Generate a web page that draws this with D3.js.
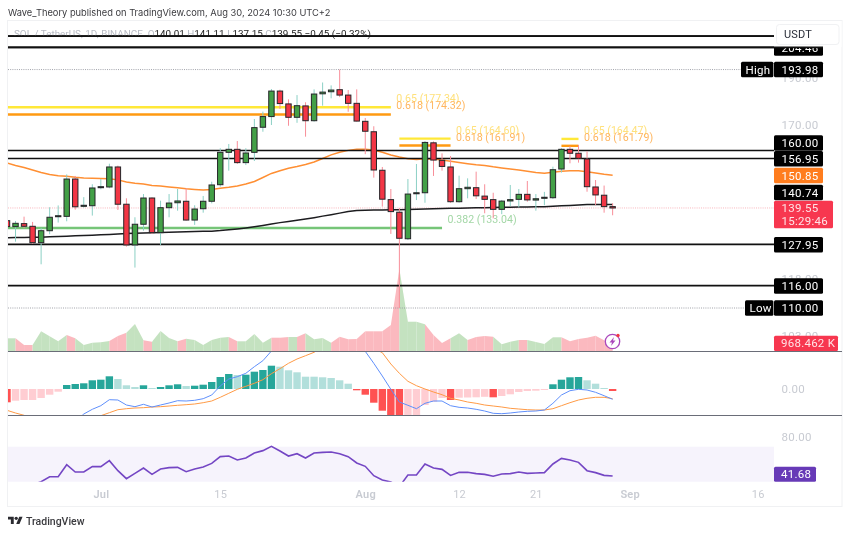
<!DOCTYPE html>
<html><head><meta charset="utf-8">
<script src="https://cdn.jsdelivr.net/npm/d3@7"></script>
<style>
html,body{margin:0;padding:0;background:#fff}
svg{display:block;filter:blur(0.3px)}
text{font-family:Roboto,sans-serif}
</style></head><body>
<div id="chart"></div>
<script>
// ---------- data ----------
const firstDay = "2024-06-20";
const opens = [135.4,133.5,134.45,133.6,128.5,132.2,136.75,136.8,149.5,140.1,
140.3,146.45,146.7,153.85,140.8,127.8,134.25,142.9,131.6,139.65,
141.3,141.8,135.6,139.3,141.8,147.5,159.3,160.45,155.45,159.3,
169.1,173.45,184.3,178.75,173.15,177.9,171.75,183.1,184.0,184.9,
182.55,179.0,171.5,167.3,152.65,142.35,138.15,129.7,144.35,144.7,
162.95,156.3,153.85,141.65,146.1,146.45,143.55,142.35,139.1,141.9,
142.45,144.15,142.2,142.8,143.0,153.1,160.45,158.95,156.8,146.7,
143.85,140.01];
const closes = [133.5,134.55,133.6,128.5,132.2,136.5,137.0,149.5,139.95,140.45,
146.35,146.8,153.85,140.8,127.8,134.25,142.9,131.6,139.65,141.2,
141.9,135.6,139.2,141.8,147.4,159.3,160.45,155.45,159.05,168.95,
173.45,184.3,178.9,173.15,178.0,171.75,183.0,183.85,184.75,182.55,
179.0,171.6,167.5,152.75,142.5,138.35,129.85,144.25,144.7,163.1,
156.4,154.05,141.65,146.1,146.6,143.65,142.45,139.1,141.85,142.35,
144.15,142.25,142.65,143.15,152.85,160.45,158.95,157.05,146.8,143.95,
140.0,139.55];
const highs = [135.9,135.3,136.7,135.0,133.1,139.8,140.4,151.15,150.6,143.2,
147.65,149.5,155.05,154.35,142.8,136.5,144.25,143.15,142.0,144.25,
146.0,146.25,140.45,143.6,148.55,160.85,162.5,163.65,160.85,172.45,
175.5,185.2,184.9,180.7,182.55,179.45,185.05,188.1,186.8,193.98,
184.75,185.05,172.85,169.5,153.85,146.0,139.55,149.5,154.95,163.65,
163.5,158.9,157.9,150.7,149.75,152.15,147.65,144.7,142.25,147.4,
146.0,148.8,144.25,145.0,153.95,160.85,161.7,162.1,159.7,149.15,
147.2,141.11];
const lows = [133.1,128.8,133.0,128.1,122.05,131.1,134.8,135.2,139.0,139.65,
137.05,145.9,146.25,138.9,127.3,121.1,132.2,131.2,127.8,136.5,
138.65,135.4,134.05,138.0,141.1,146.8,152.5,154.95,154.55,156.05,
167.3,170.0,176.6,169.7,170.9,165.35,171.35,178.0,181.15,181.65,
175.45,171.4,158.6,150.0,140.0,131.2,110.0,129.3,142.2,141.3,
150.6,152.5,141.3,141.3,142.8,142.55,137.8,136.15,137.5,140.2,
139.75,141.65,138.65,140.45,142.55,151.8,155.2,155.45,145.05,140.5,
138.0,137.15];
const ema50 = [155.3,154.4,153.65,152.75,151.85,151.1,150.65,150.5,150.15,149.9,
149.75,149.65,149.6,149.2,148.45,148,147.75,147.25,147,146.7,
146.45,146.1,145.85,145.65,145.85,146.25,146.6,147.05,147.75,148.65,
150.05,151.5,152.45,153.35,154,154.75,155.7,157,158.35,159.35,
160.05,160.45,160.5,160.2,159.3,158.3,157.55,156.9,156.6,156.9,
156.8,156.4,156,155.5,155.05,154.65,154.4,153.9,153.5,153.1,
152.75,152.3,151.85,151.55,151.95,152.3,152.45,152.45,152.15,151.65,
151.2,150.85];
const ema200 = [130.04,130.07,130.1,130.14,130.17,130.29,130.42,130.51,130.63,130.73,
130.82,130.91,131.04,131.2,131.32,131.41,131.5,131.56,131.62,131.72,
131.81,131.88,131.94,132,132.06,132.25,132.5,132.76,133.08,133.46,
133.88,134.36,134.77,135.15,135.57,135.95,136.38,136.87,137.33,137.85,
138.38,138.73,138.83,138.89,138.92,138.96,138.99,139.05,139.12,139.22,
139.29,139.35,139.42,139.49,139.55,139.62,139.65,139.72,139.78,139.82,
139.85,139.89,139.92,139.99,140.13,140.26,140.4,140.57,140.7,140.74,
140.74,140.74];
const volumesK = [1753,1753,828,828,2719,2029,1339,2208,1753,828,
1145,1201,1380,2070,2525,3726,1477,1283,2760,1794,
1339,1697,1518,828,1518,1835,1932,1339,1339,2346,
1145,1835,1835,1932,1932,2443,1615,1794,1145,1973,
1615,1656,2719,2719,2719,3588,11316,4043,4043,3685,
2208,1104,1753,2443,1518,1932,2070,1973,925,1283,
1518,1518,1242,966,1891,1891,1339,1656,1835,2111,
1477,968.462];
const macdHist = [-1.33,-1.17,-1.10,-1.10,-0.90,-0.57,-0.27,0.40,0.50,0.57,
0.87,0.93,1.27,1.00,0.37,0.20,0.37,0.10,0.20,0.37,
0.47,0.30,0.33,0.43,0.70,1.20,1.50,1.40,1.43,1.73,
1.90,2.33,2.23,1.87,1.67,1.23,1.23,1.17,1.10,0.87,
0.53,-0.13,-0.57,-1.37,-2.17,-2.67,-3.17,-2.83,-2.60,-1.60,
-1.27,-0.90,-1.10,-0.87,-0.85,-0.83,-0.78,-0.83,-0.70,-0.53,
-0.30,-0.20,-0.17,-0.10,0.47,0.93,1.17,1.20,0.87,0.53,
0.10,-0.20];
const macdLine = [-7.10,-6.77,-6.60,-6.27,-5.77,-5.10,-4.60,-4.10,-3.27,-2.50,
-2.03,-1.67,-1.07,-1.10,-1.60,-1.77,-1.53,-1.80,-1.60,-1.40,
-1.17,-1.20,-1.13,-0.97,-0.60,0.30,1.00,1.23,1.57,2.23,
2.83,3.80,4.57,5.57,6.23,6.90,7.40,7.57,7.40,6.90,
5.90,4.90,3.77,2.57,1.30,-0.03,-1.30,-1.63,-1.97,-1.43,
-1.20,-1.20,-1.67,-1.83,-1.90,-2.03,-2.20,-2.43,-2.47,-2.40,
-2.30,-2.23,-2.20,-2.10,-1.43,-0.60,-0.17,-0.03,-0.10,-0.33,
-0.67,-1.03];
const macdSignal = [-2.13,-2.40,-2.63,-2.93,-3.20,-3.37,-3.43,-3.43,-3.27,-3.10,
-2.93,-2.67,-2.37,-2.07,-1.97,-1.90,-1.87,-1.80,-1.77,-1.70,
-1.63,-1.57,-1.50,-1.37,-1.20,-0.83,-0.43,-0.03,0.27,0.57,
0.93,1.53,2.03,2.57,3.00,3.33,3.67,4.23,4.73,5.07,
5.07,4.90,4.57,4.07,3.63,2.50,1.57,0.77,0.33,0,
-0.30,-0.57,-0.93,-1.10,-1.30,-1.43,-1.60,-1.70,-1.80,-1.93,
-2.00,-2.07,-2.10,-2.10,-1.97,-1.67,-1.37,-1.10,-0.93,-0.83,
-0.83,-0.97];
const rsi = [30,31,32,33,36.1,41,41,52.8,45.6,45.6,
50.9,50.9,56.8,46.9,39.1,44.3,49.5,43.3,48.6,49.9,
50.2,45.9,48.6,50.5,54.1,60.7,61.3,57.4,59.4,64.3,
66.6,70.8,66.2,61.3,63.6,59.4,64.3,64.9,65.3,63.6,
60.7,54.5,51.2,42,37.8,35.8,31.2,42.7,42.7,53.5,
49.5,48.2,42.3,45.3,45.3,44,43.3,41.4,43.7,44,
45.6,44.3,44.6,45,53.5,59,57.4,55.1,46.9,45,
42.3,41.68];
const solidLevels = [210.05,204.46,160,156.95,127.95,116];
const dottedLevels = [193.98,110];
const lastPrice = 139.55;
const fibLines = [
 {value:177.34,from:"2024-06-20",to:"2024-08-04",kind:"yellow",label:"0.65 (177.34)"},
 {value:174.32,from:"2024-06-20",to:"2024-08-04",kind:"orange",label:"0.618 (174.32)"},
 {value:164.60,from:"2024-08-05",to:"2024-08-11",kind:"yellow",label:"0.65 (164.60)"},
 {value:161.91,from:"2024-08-05",to:"2024-08-11",kind:"orange",label:"0.618 (161.91)"},
 {value:164.47,from:"2024-08-24",to:"2024-08-26",kind:"yellow",label:"0.65 (164.47)"},
 {value:161.79,from:"2024-08-24",to:"2024-08-26",kind:"orange",label:"0.618 (161.79)"},
 {value:133.04,from:"2024-06-20",to:"2024-08-10",kind:"green",label:"0.382 (133.04)"}
];
const priceTicks = [190,170,118,103];
const macdTicks = [0];
const rsiTicks = [80];
const timeTicks = ["2024-07-01","2024-07-15","2024-08-01","2024-08-12","2024-08-21","2024-09-01","2024-09-16"];
const priceBoxes = [
 {text:"204.46",cy:48,fill:"#000",w:49},
 {text:"193.98",cy:69.5,fill:"#000",w:49,tag:"High",tagX:741},
 {text:"160.00",cy:143,fill:"#000",w:49},
 {text:"156.95",cy:158.7,fill:"#000",w:49},
 {text:"150.85",cy:175.5,fill:"#ff7d1e",w:49},
 {text:"140.74",cy:192.5,fill:"#000",w:49},
 {text:"127.95",cy:244.8,fill:"#000",w:49},
 {text:"116.00",cy:286,fill:"#000",w:49},
 {text:"110.00",cy:308,fill:"#000",w:49,tag:"Low",tagX:745}
];
// ---------- layout ----------
const W=850,H=534, L=8, R=774, Rf=842;
const main={t:21,b:351}, mp={t:352,b:415}, rp={t:416,b:481.7};
const GREEN="#43a047",RED="#f23645";
const parse=d3.utcParse("%Y-%m-%d");
const t0=parse(firstDay);
const days=opens.map((_,i)=>d3.utcDay.offset(t0,i));
const x=d3.scaleUtc().domain([t0,parse("2024-09-16")]).range([7,757.64]);
const y=d3.scaleLog().domain([160,110]).range([150.5,308]);
const yVol=d3.scaleLinear().domain([0,11316]).range([351,269]);
const yMacd=d3.scaleLinear().domain([0,1]).range([389,379]);
const yRsi=d3.scaleLinear().domain([80,30]).range([437,487.9]);
const svg=d3.select("#chart").append("svg").attr("width",W).attr("height",H);
const defs=svg.append("defs");
[["cMain",main],["cMacd",mp],["cRsi",rp]].forEach(([id,p])=>defs.append("clipPath").attr("id",id)
  .append("rect").attr("x",L).attr("y",p.t).attr("width",R-L).attr("height",p.b-p.t));
const idx=d3.range(opens.length);
const isUp=i=>closes[i]>=opens[i];

// header
svg.append("text").attr("x",8).attr("y",16).attr("font-size",9.3).attr("fill","#3a3a3e").style("font-family","Inter,sans-serif")
  .text("Wave_Theory published on TradingView.com, Aug 30, 2024 10:30 UTC+2");
// frame
svg.append("rect").attr("x",7.5).attr("y",20.5).attr("width",834.5).attr("height",486).attr("fill","none").attr("stroke","#f0f1f3");

// RSI band
svg.append("rect").attr("x",L).attr("y",446.7).attr("width",R-L).attr("height",rp.b-446.7).attr("fill","#f6f3fc");

// grey axis ticks
const axisFmt=d3.format(".2f");
function rightAxis(scale,ticks){
  const g=svg.append("g").attr("transform",`translate(${R},0)`)
    .call(d3.axisRight(scale).tickValues(ticks).tickFormat(axisFmt).tickSize(0).tickPadding(7.5));
  g.select(".domain").remove();
  g.selectAll("text").attr("font-size",11.5).attr("fill","#c8cbd2").style("font-family","Roboto,sans-serif").style("letter-spacing","0.25px");
}
rightAxis(y,priceTicks);
rightAxis(yMacd,macdTicks);
rightAxis(yRsi,rsiTicks);

// volume
const gMain=svg.append("g").attr("clip-path","url(#cMain)");
const area=d3.area().x(i=>x(days[i])).y0(351).y1(i=>yVol(volumesK[i]));
gMain.append("g").selectAll("path").data(idx.slice(1)).join("path")
  .attr("d",i=>area([i-1,i])).attr("fill",i=>isUp(i)?"#c4e2c0":"#fbb9bf");

// dotted levels and last price
gMain.selectAll(".dot").data(dottedLevels).join("line").attr("class","dot")
  .attr("x1",L).attr("x2",(d,i)=>i==0?741:745).attr("y1",d=>y(d)).attr("y2",d=>y(d))
  .attr("stroke","#8a8d96").attr("stroke-width",0.8).attr("stroke-dasharray","1 1.2");
gMain.append("line").attr("x1",L).attr("x2",R).attr("y1",y(lastPrice)).attr("y2",y(lastPrice))
  .attr("stroke","#f7a3ac").attr("stroke-width",0.8).attr("stroke-dasharray","1 1.2");

// fib lines
const fibColor={yellow:"#ffe838",orange:"#ff9a12",green:"#76c578"};
const fibText={yellow:"#ffe17c",orange:"#ffb65f",green:"#a3d7a6"};
gMain.selectAll(".fib").data(fibLines).join("line").attr("class","fib")
  .attr("x1",d=>Math.max(L,x(parse(d.from)))).attr("x2",d=>x(parse(d.to)))
  .attr("y1",d=>y(d.value)).attr("y2",d=>y(d.value)).attr("stroke",d=>fibColor[d.kind]).attr("stroke-width",2.4);
gMain.selectAll(".fibt").data(fibLines).join("text").attr("class","fibt")
  .attr("x",d=>x(parse(d.to))+5.5).attr("y",d=>y(d.value)-5)
  .attr("font-size",10.6).attr("fill",d=>fibText[d.kind]).text(d=>d.label);

// moving averages
const line=(arr)=>d3.line().x((_,i)=>x(days[i])).y(d=>y(d))(arr);
gMain.append("path").attr("d",line(ema50)).attr("fill","none").attr("stroke","#ff8f33").attr("stroke-width",1.5);
gMain.append("path").attr("d",line(ema200)).attr("fill","none").attr("stroke","#1c1c1f").attr("stroke-width",1.5);

// solid levels
gMain.selectAll(".lvl").data(solidLevels).join("line").attr("class","lvl")
  .attr("x1",L).attr("x2",R).attr("y1",d=>y(d)).attr("y2",d=>y(d))
  .attr("stroke","#111").attr("stroke-width",(d,i)=>i==0||i==1||i>=4?1.8:1.5);

// candles
const gC=gMain.append("g");
gC.selectAll(".w").data(idx).join("line").attr("class","w")
  .attr("x1",i=>x(days[i])).attr("x2",i=>x(days[i])).attr("y1",i=>y(highs[i])).attr("y2",i=>y(lows[i]))
  .attr("stroke",i=>isUp(i)?"#8cd0c5":"#f88e99").attr("stroke-width",1);
const bodyW=5.4;
gC.selectAll(".b").data(idx).join("rect").attr("class","b")
  .attr("x",i=>x(days[i])-bodyW/2).attr("width",bodyW)
  .attr("y",i=>y(Math.max(opens[i],closes[i])))
  .attr("height",i=>Math.max(1,Math.abs(y(opens[i])-y(closes[i]))))
  .attr("fill",i=>isUp(i)?GREEN:RED).attr("stroke","#26262a").attr("stroke-width",1);

// MACD
const gM=svg.append("g").attr("clip-path","url(#cMacd)");
const histColor=i=>{const v=macdHist[i],p=i?macdHist[i-1]:(v<0?0:-1);
  if(v>=0) return v>p?"#26a69a":"#b2dfdb"; return v<p?"#ff5252":"#ffcdd2";};
gM.selectAll("rect").data(idx).join("rect")
  .attr("x",i=>x(days[i])-3.7).attr("width",7.4)
  .attr("y",i=>Math.min(yMacd(0),yMacd(macdHist[i])))
  .attr("height",i=>Math.abs(yMacd(macdHist[i])-yMacd(0)))
  .attr("fill",histColor);
const ml=(arr)=>d3.line().x((_,i)=>x(days[i])).y(d=>yMacd(d))(arr);
gM.append("path").attr("d",ml(macdSignal)).attr("fill","none").attr("stroke","#ff9a45").attr("stroke-width",1);
gM.append("path").attr("d",ml(macdLine)).attr("fill","none").attr("stroke","#5f8ffb").attr("stroke-width",1);

// RSI line
const gR=svg.append("g").attr("clip-path","url(#cRsi)");
gR.append("path").attr("d",d3.line().x((_,i)=>x(days[i])).y(d=>yRsi(d))(rsi)).attr("fill","none").attr("stroke","#7446c4").attr("stroke-width",1.6);

// pane separators
svg.selectAll(".sep").data([351.5,415.5]).join("line").attr("class","sep")
  .attr("x1",L).attr("x2",Rf).attr("y1",d=>d).attr("y2",d=>d).attr("stroke","#6a6d78").attr("stroke-width",1);

// time axis
const gT=svg.append("g").attr("transform","translate(0,490)")
  .call(d3.axisBottom(x).tickValues(timeTicks.map(parse)).tickSize(0).tickPadding(0)
    .tickFormat(d=>d.getUTCDate()==1?d3.utcFormat("%b")(d):String(d.getUTCDate())));
gT.select(".domain").remove();
gT.selectAll("text").attr("font-size",11).attr("fill","#c8cbd2").attr("font-weight",d=>d.getUTCDate()==1?600:400).style("font-family","Roboto,sans-serif").style("letter-spacing","0.25px");

// price labels
const labelFont=s=>s.attr("font-size",11.5).attr("dominant-baseline","central").style("letter-spacing","0.25px");
function box(x0,w,cy,h,fill){svg.append("rect").attr("x",x0).attr("y",cy-h/2).attr("width",w).attr("height",h).attr("rx",1.5).attr("fill",fill);}
function label(x0,cy,txt,fill){svg.append("text").attr("x",x0).attr("y",cy).attr("fill",fill).text(txt).call(labelFont);}
priceBoxes.forEach(b=>{
  box(R,b.w,b.cy,15.5,b.fill); label(781.5,b.cy,b.text,"#fff");
  if(b.tag){box(b.tagX,R-b.tagX-0.6,b.cy,15.5,"#000"); label(b.tagX+4.5,b.cy,b.tag,"#fff");}
});
box(R,59,214.5,27.6,"#f7374f"); label(781.5,207.8,d3.format(".2f")(lastPrice),"#ffe3e6"); label(781.5,221,"15:29:46","#ffe3e6");
box(R,64,343.3,15.2,"#f7374f"); label(781,343.2,"968.462 K","#ffe3e6");
box(R,42,474.2,15,"#673ab7"); label(781,474.2,d3.format(".2f")(rsi[rsi.length-1]),"#fff");

// white mask + top lines over axis
svg.append("rect").attr("x",R).attr("y",21).attr("width",67.5).attr("height",26).attr("fill","#fff");
svg.append("line").attr("x1",L).attr("x2",823).attr("y1",y(204.46)).attr("y2",y(204.46)).attr("stroke","#111").attr("stroke-width",1.8);
svg.append("rect").attr("x",776.5).attr("y",24.5).attr("width",62.5).attr("height",20).attr("rx",3).attr("fill","#fff").attr("stroke","#f0f1f3");
svg.append("text").attr("x",784).attr("y",34.5).attr("font-size",11).attr("dominant-baseline","central").attr("fill","#2a2e39").style("letter-spacing","0.2px").text("USDT");

// legend text
const leg=svg.append("text").attr("x",14).attr("y",37).attr("font-size",9.9);
[["SOL / TetherUS, 1D, BINANCE  ","#b8bbc4"],["O","#b8bbc4"],["140.01 ","#222"],["H","#b8bbc4"],["141.11 ","#222"],["L","#b8bbc4"],["137.15 ","#222"],["C","#b8bbc4"],["139.55 ","#222"],["−0.45 (−0.32%)","#222"]]
 .forEach(([t,c])=>leg.append("tspan").attr("fill",c).attr("xml:space","preserve").text(t));
svg.append("line").attr("x1",L).attr("x2",R).attr("y1",y(210.05)).attr("y2",y(210.05)).attr("stroke","#111").attr("stroke-width",1.8);

// flash icon
const ic=svg.append("g").attr("transform","translate(612.5,341.5)");
ic.append("circle").attr("r",7.2).attr("fill","#fff").attr("stroke","#ab47bc").attr("stroke-width",1.3);
ic.append("path").attr("d","M1.5,-4.5 L-3,1 L-0.5,1 L-1.5,4.5 L3,-1 L0.5,-1 Z").attr("fill","#ab47bc");
ic.append("circle").attr("cx",5.5).attr("cy",-6).attr("r",1.7).attr("fill","#f23645");

// logo
const logo=svg.append("g").attr("transform","translate(8,515) scale(0.41)").attr("fill","#2b2b30");
logo.append("path").attr("d","M14 22H7V11H0V4h14v18zM28 22h-8l7.5-18h8L28 22z");
logo.append("circle").attr("cx",20).attr("cy",8).attr("r",4);
svg.append("text").attr("x",26).attr("y",525).attr("font-size",10.5).attr("font-weight",500).attr("fill","#3a3a3e").text("TradingView");
</script>
</body></html>
